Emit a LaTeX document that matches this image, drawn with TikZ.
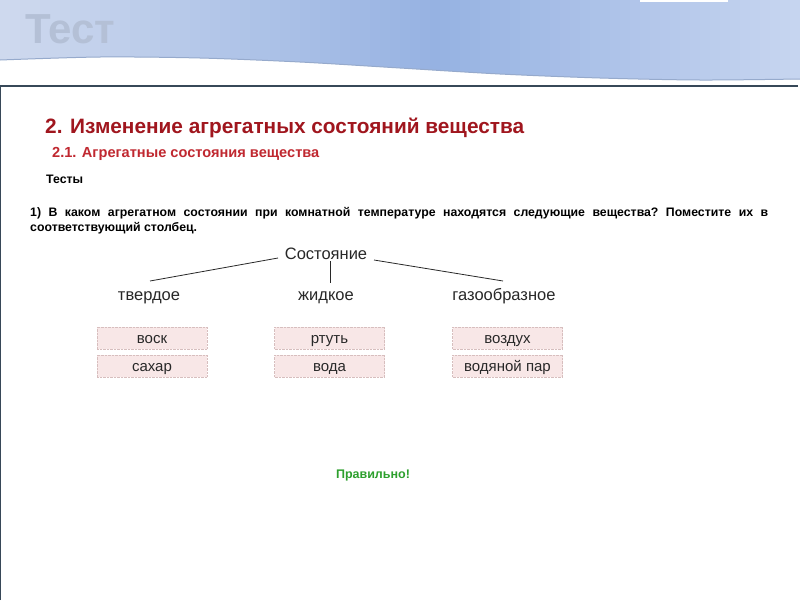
\documentclass[tikz,border=0pt]{standalone}
\usepackage{fontspec}
\setmainfont{Liberation Sans}
\definecolor{titlered}{RGB}{160,22,30}
\definecolor{subred}{RGB}{192,40,48}
\definecolor{textgray}{RGB}{40,40,40}
\definecolor{boxfill}{RGB}{248,231,231}
\definecolor{boxedge}{RGB}{215,190,190}
\definecolor{okgreen}{RGB}{45,160,45}
\definecolor{bandL}{RGB}{206,217,238}
\definecolor{bandM}{RGB}{150,178,226}
\definecolor{bandR}{RGB}{200,214,240}
\definecolor{waveedge}{RGB}{150,170,204}
\definecolor{frameline}{RGB}{55,72,88}
\definecolor{headtext}{RGB}{180,192,214}
\tikzset{
  itembox/.style={draw=boxedge, densely dotted, fill=boxfill, minimum width=110pt, minimum height=22pt, inner sep=0pt, text height=10.5pt, text depth=0pt, font=\fontsize{15}{17}\selectfont, text=textgray},
  catlabel/.style={font=\fontsize{16.5}{19}\selectfont, text=textgray, inner sep=1pt},
  tree/.style={draw=textgray, line width=0.8pt}
}
\begin{document}
\begin{tikzpicture}[x=1pt,y=-1pt]
\useasboundingbox (0,0) rectangle (800,600);
\fill[white] (0,0) rectangle (800,600);
% header band
\begin{scope}
  \clip (0,0) -- (800,0) -- (800,79)
    -- plot[smooth] coordinates {(800,79) (700,80) (600,78) (500,74) (400,68) (300,62) (200,58) (100,57) (0,60)}
    -- cycle;
  \foreach \i in {0,...,79}{
    \pgfmathsetmacro{\xa}{\i*10}
    \pgfmathsetmacro{\xb}{\i*10+10.5}
    \ifnum\i<43
      \pgfmathtruncatemacro{\p}{100*\i/43}
      \fill[bandM!\p!bandL] (\xa,0) rectangle (\xb,90);
    \else
      \pgfmathtruncatemacro{\p}{100*(\i-43)/37}
      \fill[bandR!\p!bandM] (\xa,0) rectangle (\xb,90);
    \fi
  }
\end{scope}
\draw[waveedge, line width=1pt] plot[smooth] coordinates {(800,79) (700,80) (600,78) (500,74) (400,68) (300,62) (200,58) (100,57) (0,60)};
\fill[white] (640,0) rectangle (728,2);
\node[anchor=base west, inner sep=0, font=\fontsize{42}{44}\selectfont\bfseries, text=headtext] (head) at (25,43) {Тест};
% frame
\draw[frameline, line width=1.2pt] (0.6,600) -- (0.6,86) -- (798,86);
% titles
\node[anchor=base west, inner sep=0, font=\fontsize{20.8}{24}\selectfont\bfseries, text=titlered] (title) at (45,133) {2. Изменение агрегатных состояний вещества};
\node[anchor=base west, inner sep=0, font=\fontsize{14.6}{17}\selectfont\bfseries, text=subred] (sub) at (52,157) {2.1. Агрегатные состояния вещества};
\node[anchor=base west, inner sep=0, font=\fontsize{12.3}{14}\selectfont\bfseries] (tests) at (46,183) {Тесты};
\node[anchor=north west, inner sep=0, text width=738pt, align=justify, font=\fontsize{12.3}{15}\selectfont\bfseries\frenchspacing] (q) at (30,207)
  {1) В каком агрегатном состоянии при комнатной температуре находятся следующие вещества? Поместите их в\linebreak соответствующий столбец.};
% tree
\node[catlabel, anchor=base] (root) at (326,259) {Состояние};
\node[catlabel, anchor=base] (solid) at (149,300) {твердое};
\node[catlabel, anchor=base] (liquid) at (326,300) {жидкое};
\node[catlabel, anchor=base] (gas) at (504,300) {газообразное};
\coordinate (rl) at (278,258);
\coordinate (rm) at (330,261);
\coordinate (rr) at (374,260);
\coordinate (sl) at (150,281);
\coordinate (sm) at (330,283);
\coordinate (sr) at (503,281);
\draw[tree] (rl) -- (sl);
\draw[tree] (rm) -- (sm);
\draw[tree] (rr) -- (sr);
% boxes
\node[itembox] (b1) at (152,338) {воск};
\node[itembox] (b2) at (152,366) {сахар};
\node[itembox] (b3) at (329.5,338) {ртуть};
\node[itembox] (b4) at (329.5,366) {вода};
\node[itembox] (b5) at (507.5,338) {воздух};
\node[itembox] (b6) at (507.5,366) {водяной пар};
% result
\node[anchor=base, inner sep=0, font=\fontsize{12.5}{14}\selectfont\bfseries, text=okgreen] (ok) at (373,478) {Правильно!};
\end{tikzpicture}
\end{document}
